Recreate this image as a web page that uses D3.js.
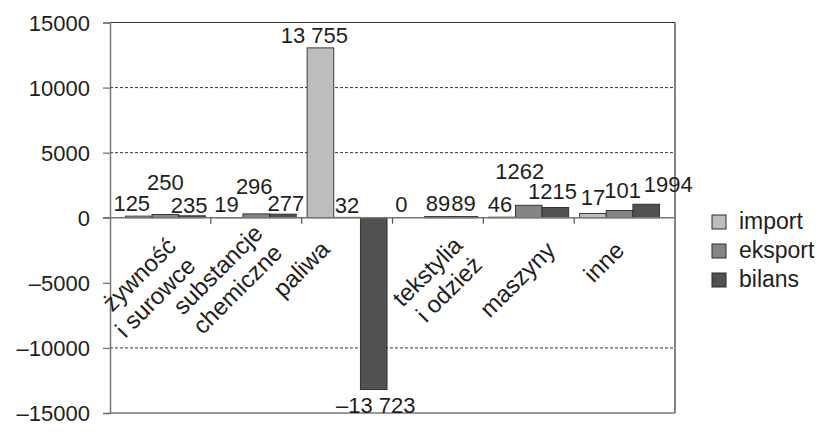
<!DOCTYPE html>
<html><head><meta charset="utf-8">
<script src="https://cdn.jsdelivr.net/npm/d3@7"></script>
<style>body{margin:0;background:#fff}svg{display:block}text{font-family:"Liberation Sans",Arial,sans-serif;fill:#1e1e1e}</style>
</head><body><svg id="c" width="818" height="432"></svg>
<script>
// ---- data ----
const categories = [["żywność","i surowce"],["substancje","chemiczne"],["paliwa"],["tekstylia","i odzież"],["maszyny"],["inne"]];
const seriesNames = ["import","eksport","bilans"];
const importValues  = [125, 19, 13050, 0, 46, 330];
const eksportValues = [250, 296, 32, 89, 960, 560];
const bilansValues  = [150, 277, -13200, 89, 790, 1040];
const importLabels  = ["125","19","13 755","0","46","17"];
const eksportLabels = ["250","296","32","89","1262","101"];
const bilansLabels  = ["235","277","–13 723","89","1215","1994"];
const yTicks = [-15000,-10000,-5000,0,5000,10000,15000];
const yTickLabels = ["–15000","–10000","–5000","0","5000","10000","15000"];
const gridValues = [10000, 5000, -10000];

// ---- layout tweaks (label nudges, not data) ----
const valueLabelNudge = [
  [[-7,0],[-3,-1],[-6,0],[-10,-1],[-2,0],[0,-3]],
  [[0,-19],[-2,-15],[0,1],[0,-1],[-9,-21],[3,-7]],
  [[-3,2],[3,2],[2,1],[-1,-1],[-3,-3],[22,-7]]
];
const catLabelNudge = [[12,30],[8,17],[-16,33],[26,29],[28,34],[6,34]];

const colors = ["#bdbdbf","#858585","#515151"];
const values = [importValues, eksportValues, bilansValues];
const labels = [importLabels, eksportLabels, bilansLabels];

const svg = d3.select("#c");
const L = 110, R = 675, T = 22.5, B = 413;
const x = d3.scaleBand().domain(d3.range(categories.length)).range([L, R]).paddingInner(0.12).paddingOuter(0.17);
const xs = d3.scaleBand().domain(d3.range(seriesNames.length)).range([0, x.bandwidth()]);
const y = d3.scaleLinear().domain([-15000, 15000]).range([B, T]);

// gridlines
svg.append("g").selectAll("line").data(gridValues).join("line")
  .attr("x1", L).attr("x2", R).attr("y1", d => y(d)).attr("y2", d => y(d))
  .attr("stroke", "#333").attr("stroke-width", 1).attr("stroke-dasharray", "3,2");

// frame: top, right, bottom
svg.append("line").attr("x1", L).attr("x2", R).attr("y1", y(15000)).attr("y2", y(15000)).attr("stroke", "#333").attr("stroke-width", 1.2);
svg.append("line").attr("x1", R).attr("x2", R).attr("y1", y(15000)).attr("y2", y(-15000)).attr("stroke", "#333").attr("stroke-width", 1.2);
svg.append("line").attr("x1", L).attr("x2", R).attr("y1", y(-15000)).attr("y2", y(-15000)).attr("stroke", "#777").attr("stroke-width", 1.5);

// bars
const gBars = svg.append("g");
values.forEach((vals, s) => {
  gBars.selectAll(null).data(vals).join("rect")
    .attr("x", (d, i) => x(i) + xs(s))
    .attr("width", xs.bandwidth())
    .attr("y", d => y(Math.max(d, 0)))
    .attr("height", d => Math.abs(y(d) - y(0)))
    .attr("fill", colors[s]).attr("stroke", "#2a2a2a").attr("stroke-width", 0.9);
});

// y axis
const yAxis = d3.axisLeft(y).tickValues(yTicks).tickSize(7).tickFormat((d, i) => yTickLabels[i]);
const gy = svg.append("g").attr("transform", `translate(${L},0)`).call(yAxis);
gy.select(".domain").attr("stroke", "#777").attr("stroke-width", 1.5);
gy.selectAll(".tick line").attr("stroke", "#777").attr("stroke-width", 1.3);
gy.selectAll(".tick text").attr("x", -20).attr("dy", "0.36em").style("font-size", "22px").style("font-family", '"Liberation Sans",Arial,sans-serif').attr("fill", "#1e1e1e");

// zero line and category ticks
svg.append("line").attr("x1", L - 7).attr("x2", R).attr("y1", y(0)).attr("y2", y(0)).attr("stroke", "#777").attr("stroke-width", 1.5);
const step = x.step();
svg.append("g").selectAll("line").data(d3.range(1, categories.length)).join("line")
  .attr("x1", i => x(i) - step * x.paddingInner() / 2).attr("x2", i => x(i) - step * x.paddingInner() / 2)
  .attr("y1", y(0)).attr("y2", y(0) + 6).attr("stroke", "#555").attr("stroke-width", 1.2);

// value labels
const gLab = svg.append("g").style("font-size", "22px").attr("text-anchor", "middle");
values.forEach((vals, s) => {
  gLab.selectAll(null).data(vals).join("text")
    .attr("x", (d, i) => x(i) + xs(s) + xs.bandwidth() / 2 + valueLabelNudge[s][i][0])
    .attr("y", (d, i) => (d >= 0 ? y(d) - 5 : y(d) + 22) + valueLabelNudge[s][i][1])
    .text((d, i) => labels[s][i]);
});

// category labels
const gCat = svg.append("g").style("font-size", "24px");
categories.forEach((lines, i) => {
  const cx = x(i) + x.bandwidth() / 2 + catLabelNudge[i][0];
  const cy = y(0) + catLabelNudge[i][1];
  const t = gCat.append("text").attr("transform", `translate(${cx},${cy}) rotate(-45)`).attr("text-anchor", "end");
  lines.forEach((ln, k) => t.append("tspan").attr("x", 0).attr("dy", k === 0 ? 0 : "1.15em").text(ln));
});

// legend
const lg = svg.append("g").attr("transform", "translate(712,215)");
seriesNames.forEach((n, s) => {
  lg.append("rect").attr("x", 0).attr("y", s * 29).attr("width", 14).attr("height", 14)
    .attr("fill", colors[s]).attr("stroke", "#2a2a2a").attr("stroke-width", 1);
  lg.append("text").attr("x", 27).attr("y", s * 29 + 14).style("font-size", "23px").text(n);
});
</script></body></html>
